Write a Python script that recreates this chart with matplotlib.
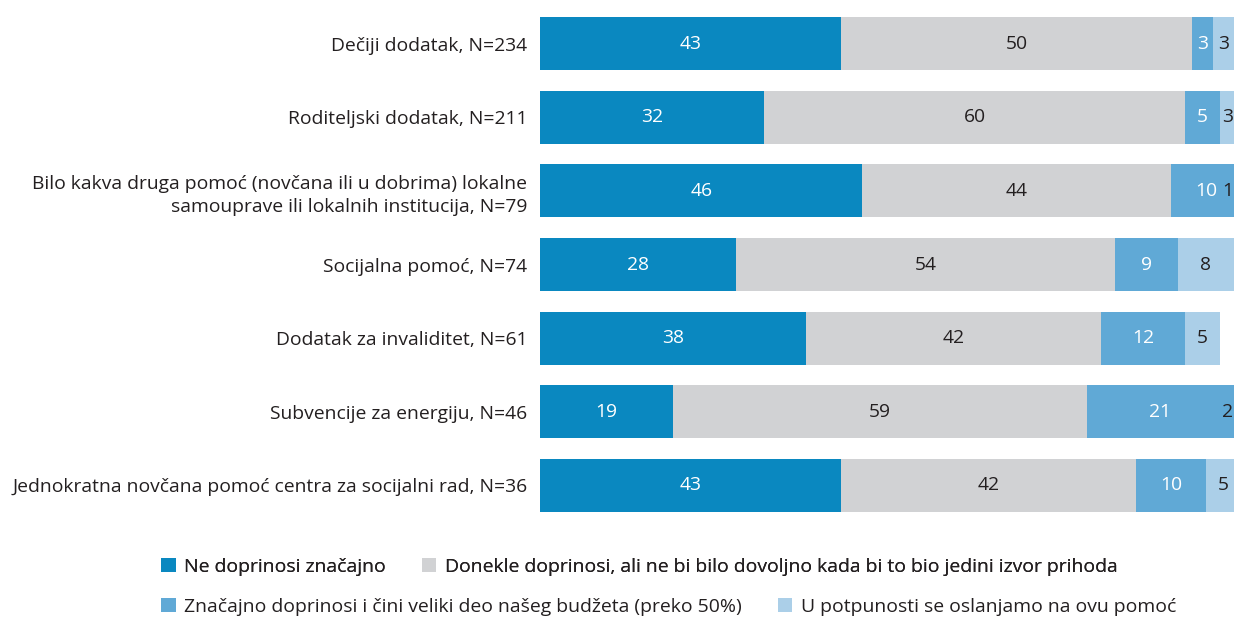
import numpy as np
import matplotlib.pyplot as plt
from matplotlib.patches import Patch

plt.rcParams['font.family'] = ['Open Sans', 'DejaVu Sans']

categories = [
    "Dečiji dodatak, N=234",
    "Roditeljski dodatak, N=211",
    "Bilo kakva druga pomoć (novčana ili u dobrima) lokalne\nsamouprave ili lokalnih institucija, N=79",
    "Socijalna pomoć, N=74",
    "Dodatak za invaliditet, N=61",
    "Subvencije za energiju, N=46",
    "Jednokratna novčana pomoć centra za socijalni rad, N=36",
]
ne_doprinosi = [43, 32, 46, 28, 38, 19, 43]
donekle = [50, 60, 44, 54, 42, 59, 42]
znacajno = [3, 5, 10, 9, 12, 21, 10]
potpuno = [3, 3, 1, 8, 5, 2, 5]

series_names = [
    "Ne doprinosi značajno",
    "Donekle doprinosi, ali ne bi bilo dovoljno kada bi to bio jedini izvor prihoda",
    "Značajno doprinosi i čini veliki deo našeg budžeta (preko 50%)",
    "U potpunosti se oslanjamo na ovu pomoć",
]
colors = ['#0a88c0', '#d1d2d4', '#60a9d6', '#abcfe8']
text_colors = ['white', '#231f20', 'white', '#231f20']
fs = 13.9
leg_fs = 13.95

fig = plt.figure(figsize=(12.34, 6.18), dpi=100)
ax = fig.add_axes([540 / 1234, 1 - 512 / 618, 1 - 540 / 1234, (512 - 17) / 618])

y = np.arange(len(categories))
xmax = 99
left = np.zeros(len(categories))
for vals, col, tc in zip([ne_doprinosi, donekle, znacajno, potpuno], colors, text_colors):
    vals = np.array(vals, dtype=float)
    ax.barh(y, vals, left=left, height=0.72, color=col, linewidth=0)
    for i, (l, v) in enumerate(zip(left, vals)):
        cx = min(l + v / 2, xmax - 0.9)
        ax.text(cx, y[i], f"{int(v)}", ha='center', va='center',
                color=tc, fontsize=fs)
    left += vals

ax.set_xlim(0, xmax)
ax.set_ylim(len(categories) - 0.64, -0.36)
ax.set_yticks(y)
ax.set_yticklabels(categories, fontsize=fs, color='#231f20', linespacing=1.4)
ax.tick_params(axis='y', length=0, pad=9)
ax.set_xticks([])
for s in ax.spines.values():
    s.set_visible(False)

handles = [Patch(facecolor=c, edgecolor='none') for c in colors]
leg1 = fig.legend(handles[:2], series_names[:2], ncol=2, loc='center left',
                  bbox_to_anchor=(161 / 1234, 1 - 567 / 618), frameon=False,
                  fontsize=leg_fs, handlelength=0.75, handleheight=0.75,
                  handletextpad=0.45, columnspacing=1.85, borderaxespad=0,
                  borderpad=0)
leg2 = fig.legend(handles[2:], series_names[2:], ncol=2, loc='center left',
                  bbox_to_anchor=(161 / 1234, 1 - 607 / 618), frameon=False,
                  fontsize=leg_fs, handlelength=0.75, handleheight=0.75,
                  handletextpad=0.45, columnspacing=1.85, borderaxespad=0,
                  borderpad=0)
fig.add_artist(leg1)
for leg in (leg1, leg2):
    for t in leg.get_texts():
        t.set_color('#231f20')

fig.savefig('out.png', dpi=100)
